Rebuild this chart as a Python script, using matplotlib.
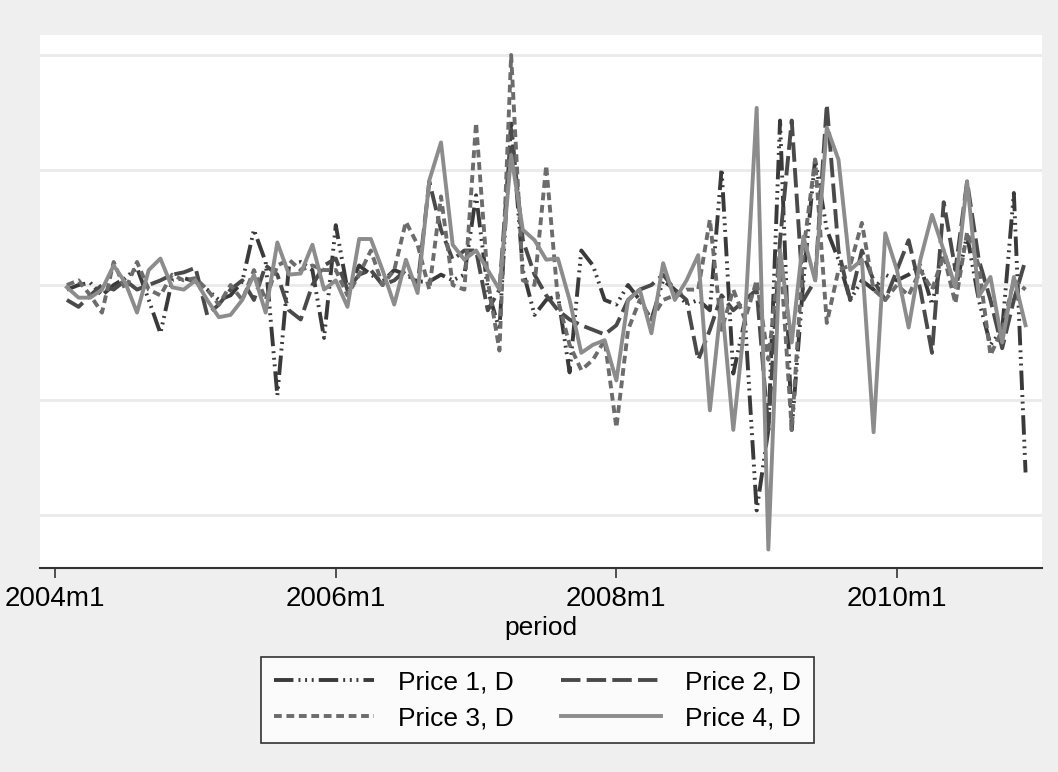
import numpy as np
import matplotlib.pyplot as plt

# monthly first differences, 2004m2 .. 2010m12 (months counted from 2004m1)
months = np.arange(1, 84)
tick_pos = [0, 24, 48, 72]
tick_labels = ["2004m1", "2006m1", "2008m1", "2010m1"]

price1 = [-0.004, 0.000, 0.002, -0.009, 0.000, 0.006, 0.015, -0.013, -0.042, 0.004,
          0.006, 0.003, -0.004, -0.013, -0.009, 0.003, 0.048, 0.020, -0.096, 0.017,
          0.020, 0.013, -0.046, 0.052, -0.004, 0.017, 0.009, 0.003, 0.013, 0.009,
          0.003, 0.003, 0.009, 0.004, 0.009, 0.078, -0.004, -0.039, 0.143, 0.013,
          -0.026, -0.013, -0.009, -0.076, 0.030, 0.017, -0.013, -0.017, 0.000, -0.013,
          -0.030, 0.004, -0.004, -0.017, -0.013, -0.022, 0.101, -0.077, -0.030, -0.196,
          -0.126, 0.143, -0.126, 0.004, 0.109, 0.048, 0.022, -0.013, 0.004, -0.004,
          0.009, 0.004, 0.009, 0.017, -0.017, 0.030, -0.004, 0.043, -0.013, -0.052,
          -0.039, 0.080, -0.163]
price2 = [-0.013, -0.019, -0.009, 0.000, -0.004, 0.004, -0.004, 0.000, 0.004, 0.009,
          0.011, 0.015, -0.026, -0.017, -0.004, 0.004, -0.013, 0.017, 0.009, -0.022,
          -0.030, 0.000, 0.017, 0.023, -0.004, 0.009, 0.013, 0.000, 0.004, 0.013,
          0.000, 0.090, 0.048, 0.022, 0.030, 0.030, -0.022, -0.004, 0.135, 0.039,
          0.009, -0.009, -0.022, -0.030, -0.035, -0.039, -0.043, -0.035, -0.013, -0.004,
          0.000, 0.009, -0.004, -0.013, -0.065, -0.039, -0.009, -0.022, -0.013, -0.004,
          -0.126, 0.039, 0.143, -0.013, 0.004, 0.157, 0.030, -0.013, 0.030, 0.004,
          -0.013, 0.013, 0.039, -0.004, -0.059, 0.072, 0.013, 0.090, 0.022, -0.013,
          -0.055, -0.013, 0.022]
price3 = [0.000, 0.004, -0.009, -0.024, 0.020, -0.004, 0.020, -0.004, -0.009, 0.009,
          0.004, 0.006, -0.004, -0.017, 0.000, -0.013, 0.013, -0.013, 0.017, 0.022,
          0.013, 0.017, 0.013, 0.013, -0.009, 0.009, 0.030, 0.000, 0.013, 0.055,
          0.035, -0.004, 0.077, 0.000, -0.004, 0.141, 0.004, -0.057, 0.200, 0.004,
          0.000, 0.104, -0.013, -0.052, -0.074, -0.065, -0.048, -0.124, -0.039, -0.013,
          -0.030, -0.013, -0.009, -0.004, -0.004, 0.057, -0.039, -0.004, -0.030, 0.004,
          -0.065, 0.030, -0.126, 0.030, 0.109, -0.033, 0.013, 0.017, 0.054, -0.004,
          -0.013, 0.000, -0.009, 0.013, -0.004, 0.026, -0.016, 0.046, 0.017, -0.061,
          -0.039, 0.004, -0.004]
price4 = [-0.002, -0.011, -0.011, -0.004, 0.017, 0.002, -0.024, 0.013, 0.023, -0.002,
          -0.004, 0.004, -0.013, -0.028, -0.026, -0.013, 0.009, -0.024, 0.037, 0.009,
          0.010, 0.035, -0.004, 0.004, -0.019, 0.040, 0.040, 0.013, -0.017, 0.022,
          -0.007, 0.091, 0.124, 0.035, 0.022, 0.030, 0.013, -0.004, 0.113, 0.048,
          0.039, 0.022, 0.023, -0.013, -0.059, -0.052, -0.048, -0.083, -0.013, -0.004,
          -0.042, 0.019, -0.013, 0.004, 0.026, -0.109, -0.013, -0.126, -0.030, 0.154,
          -0.230, 0.030, -0.050, 0.042, 0.004, 0.137, 0.109, 0.013, 0.022, -0.128,
          0.045, 0.013, -0.037, 0.022, 0.061, 0.030, -0.002, 0.090, -0.010, 0.007,
          -0.050, 0.007, -0.035]

series = [
    ("Price 1, D", price1, "#3a3a3a", (0, (5, 1.3, 0.5, 1.2, 0.5, 1.2, 0.5, 1.3))),
    ("Price 2, D", price2, "#4a4a4a", (0, (5, 1.6))),
    ("Price 3, D", price3, "#6c6c6c", (0, (2, 1.2))),
    ("Price 4, D", price4, "#8c8c8c", "-"),
]

plt.rcParams["font.family"] = ["Liberation Sans", "DejaVu Sans"]

fig = plt.figure(figsize=(10.58, 7.72), dpi=100, facecolor="#efefef")
ax = fig.add_axes([0.0378, 0.2642, 0.947, 0.6905])
ax.set_facecolor("white")

lines = []
for label, vals, color, ls in series:
    ln, = ax.plot(months, vals, color=color, linestyle=ls, linewidth=2.8, label=label)
    lines.append(ln)

ax.set_xlim(-1.3, 84.4)
ax.set_ylim(-0.2461, 0.2174)
ax.set_yticks([-0.2, -0.1, 0, 0.1, 0.2])
ax.set_yticklabels([])
ax.tick_params(axis="y", length=0)
ax.grid(axis="y", color="#eaeaea", linewidth=2)
ax.set_axisbelow(True)

ax.set_xticks(tick_pos)
ax.set_xticklabels(tick_labels, fontsize=20)
ax.tick_params(axis="x", length=7, width=1.2, color="#333333", pad=6)
ax.set_xlabel("period", fontsize=19, labelpad=3)

for side in ["left", "right", "top"]:
    ax.spines[side].set_visible(False)
ax.spines["bottom"].set_color("#333333")
ax.spines["bottom"].set_linewidth(1.5)

# legend filled row by row: 1 2 / 3 4
order = [0, 2, 1, 3]
leg = fig.legend([lines[i] for i in order], [series[i][0] for i in order],
                 loc="center", bbox_to_anchor=(0.508, 0.093), ncol=2, fontsize=19,
                 frameon=True, fancybox=False, edgecolor="black", handlelength=3.8,
                 columnspacing=1.8, borderpad=0.5, labelspacing=0.45, handletextpad=0.9)
leg.get_frame().set_linewidth(1.2)

fig.savefig("out.png", dpi=100, facecolor=fig.get_facecolor())
